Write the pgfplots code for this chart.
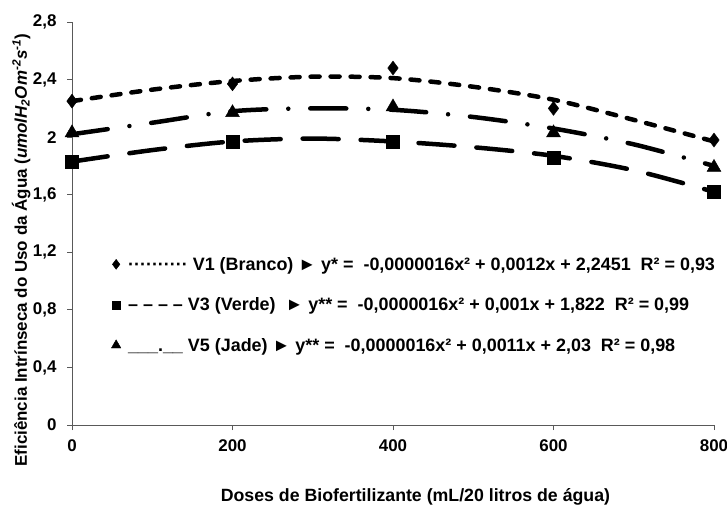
\documentclass[border=0pt]{standalone}
\usepackage{pgfplots}
\pgfplotsset{compat=1.18}
\usepackage{fontspec}
\setmainfont{Liberation Sans}

% curvas de tendencia
\pgfplotstableread{
x   v1    v3    v5
0   2.25  1.83  2.02
100 2.33  1.91  2.10
200 2.39  1.97  2.18
300 2.42  1.99  2.20
400 2.41  1.97  2.19
500 2.35  1.93  2.14
600 2.26  1.87  2.06
700 2.12  1.77  1.95
800 1.97  1.62  1.80
}\curvas
% medias observadas
\pgfplotstableread{
x   v1    v3    v5
0   2.25  1.83  2.03
200 2.37  1.97  2.17
400 2.48  1.97  2.21
600 2.20  1.86  2.03
800 1.98  1.62  1.79
}\medias

\newcommand{\pt}{\textperiodcentered}

\begin{document}
\begin{tikzpicture}
\path[use as bounding box] (-72bp,-85bp) rectangle (655bp,425bp);
\begin{axis}[
    width=642bp, height=403bp, scale only axis,
    xmin=0, xmax=800, ymin=0, ymax=2.8,
    xtick={0,200,...,800},
    ytick={0,0.4,...,2.8},
    axis x line*=bottom, axis y line*=left,
    axis line style={black!65, line width=0.8bp},
    tick style={black!65, line width=0.8bp},
    tick align=outside, major tick length=5bp,
    /pgf/number format/.cd, use comma, 1000 sep={}, assume math mode=true,
    /pgfplots/.cd,
    ticklabel style={font=\fontsize{17}{17}\selectfont\bfseries},
    yticklabel style={xshift=-7bp},
    xticklabel style={yshift=-6bp},
    xlabel={Doses de Biofertilizante (mL/20 litros de água)},
    ylabel={Eficiência Intrínseca do Uso da Água (\textit{umolH\textsubscript{2}Om\textsuperscript{-2}s\textsuperscript{-1}})},
    xlabel style={at={(axis description cs:0.535,-0.179)}, anchor=center,
        font=\fontsize{17.8}{17.8}\selectfont\bfseries},
    ylabel style={at={(axis description cs:-0.079,0.434)}, anchor=center,
        font=\fontsize{17}{17}\selectfont\bfseries},
    legend cell align=left,
    legend image code/.code={\draw[#1] plot coordinates {(0bp,0bp)};
        \path[draw=none, fill=none] (-5bp,-1bp) rectangle (10bp,1bp);},
    legend style={draw=none, fill=none, at={(axis description cs:0.056,0.427)},
        anchor=north west, row sep=22bp,
        font=\fontsize{18}{18}\selectfont\bfseries},
]
\addplot[black, line width=4.5bp, line cap=round, dash pattern=on 9bp off 11bp,
    smooth, forget plot] table[x=x, y=v1] {\curvas};
\addplot[black, line width=4.5bp, line cap=round, dash pattern=on 36bp off 22bp,
    smooth, forget plot] table[x=x, y=v3] {\curvas};
\addplot[black, line width=4.5bp, line cap=round,
    dash pattern=on 36bp off 22bp on 0bp off 22bp,
    smooth, forget plot] table[x=x, y=v5] {\curvas};

\addplot[only marks, mark=diamond*, mark size=7bp, mark options={fill=black, draw=black},
    legend image post style={mark size=5bp}]
    table[x=x, y=v1] {\medias};
\addlegendentry{\pt\pt\pt\pt\pt\pt\pt\pt\pt\pt\ V1 (Branco) ► y* = \ -0,0000016x² + 0,0012x + 2,2451 \ R² = 0,93}
\addplot[only marks, mark=square*, mark size=6.5bp, mark options={fill=black, draw=black},
    legend image post style={mark size=4bp}]
    table[x=x, y=v3] {\medias};
\addlegendentry{– – – – V3 (Verde) \ ► y** = \ -0,0000016x² + 0,001x + 1,822 \ R² = 0,99}
\addplot[only marks, mark=triangle*, mark size=8bp, mark options={fill=black, draw=black},
    legend image post style={mark size=5.5bp}]
    table[x=x, y=v5] {\medias};
\addlegendentry{\_\_\_.\_\_ V5 (Jade) ► y** = \ -0,0000016x² + 0,0011x + 2,03 \ R² = 0,98}
\end{axis}
\end{tikzpicture}
\end{document}
